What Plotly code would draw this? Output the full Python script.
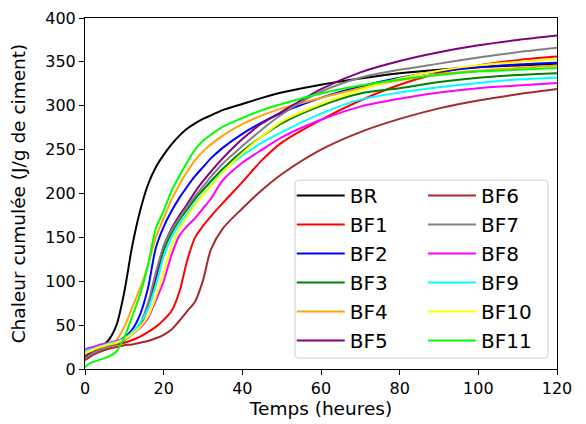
import plotly.graph_objects as go

hours = [0, 1, 2, 4, 6, 8, 10, 12, 14, 16, 18, 20, 22, 24, 26, 28, 30, 32, 35, 40, 45, 50, 60, 70, 80, 90, 100, 110, 120]

BR   = [12, 16, 19, 25, 33, 50, 88, 140, 180, 210, 230, 244, 256, 266, 274, 280, 285, 289, 295, 302, 309, 315, 324, 331, 337, 341, 344, 346, 348]
BF1  = [12, 16, 19, 23, 26, 28, 30, 33, 37, 42, 48, 56, 66, 88, 124, 150, 163, 174, 189, 213, 238, 258, 284, 306, 324, 337, 346, 352, 356]
BF2  = [14, 17, 19, 23, 27, 31, 36, 45, 62, 92, 138, 162, 180, 195, 208, 220, 230, 240, 252, 268, 281, 292, 309, 322, 332, 339, 344, 347, 349]
BF3  = [12, 15, 18, 22, 26, 29, 33, 40, 50, 70, 102, 135, 155, 170, 182, 194, 204, 214, 228, 248, 265, 280, 300, 314, 320, 327, 332, 335, 337]
BF4  = [16, 18, 20, 24, 27, 33, 48, 70, 92, 118, 150, 172, 193, 210, 225, 238, 248, 256, 266, 279, 289, 297, 309, 320, 329, 336, 340, 343, 346]
BF5  = [14, 17, 19, 23, 27, 30, 34, 40, 50, 72, 105, 140, 160, 175, 188, 202, 214, 225, 240, 262, 280, 293, 319, 338, 351, 361, 369, 375, 380]
BF6  = [10, 13, 16, 20, 23, 25, 27, 28, 30, 32, 35, 39, 45, 55, 66, 77, 101, 136, 160, 183, 204, 222, 250, 270, 285, 297, 306, 313, 319]
BF7  = [12, 15, 18, 22, 26, 29, 33, 40, 52, 75, 110, 140, 158, 172, 185, 197, 208, 219, 234, 254, 273, 290, 316, 332, 341, 348, 355, 361, 366]
BF8  = [22, 24, 25, 28, 30, 32, 35, 40, 47, 58, 78, 100, 130, 152, 163, 172, 183, 194, 215, 235, 250, 264, 284, 299, 308, 315, 320, 323, 326]
BF9  = [20, 22, 23, 26, 29, 31, 35, 42, 52, 68, 95, 128, 150, 165, 177, 189, 199, 209, 225, 243, 258, 270, 291, 307, 315, 321, 326, 330, 332]
BF10 = [18, 20, 22, 25, 28, 30, 34, 40, 48, 60, 82, 110, 140, 160, 174, 187, 198, 208, 224, 246, 265, 282, 302, 318, 331, 340, 346, 350, 353]
BF11 = [2, 6, 8, 11, 14, 20, 36, 60, 85, 118, 160, 180, 203, 220, 236, 250, 260, 267, 276, 286, 295, 302, 314, 323, 330, 335, 339, 341, 343]

names = ["BR", "BF1", "BF2", "BF3", "BF4", "BF5", "BF6", "BF7", "BF8", "BF9", "BF10", "BF11"]
series = [BR, BF1, BF2, BF3, BF4, BF5, BF6, BF7, BF8, BF9, BF10, BF11]
colors = ["#000000", "#ff0000", "#0000ff", "#008000", "#ffa500", "#800080",
          "#a52a2a", "#808080", "#ff00ff", "#00ffff", "#ffff00", "#00ff00"]
legend_ids = ["legend"] * 6 + ["legend2"] * 6

fig = go.Figure()
for name, ys, col, lg in zip(names, series, colors, legend_ids):
    fig.add_trace(go.Scatter(
        x=hours, y=ys, mode="lines", name=name,
        line=dict(color=col, width=2, shape="spline", smoothing=0.8),
        legend=lg,
    ))

axis_common = dict(
    showline=True, linecolor="black", linewidth=1, mirror=True,
    ticks="outside", ticklen=5, tickcolor="black", showgrid=False, zeroline=False,
    tickfont=dict(size=16, color="black"), automargin=False,
)
fig.update_xaxes(range=[0, 120], tickvals=[0, 20, 40, 60, 80, 100, 120],
                 title=dict(text="Temps (heures)", font=dict(size=18.5, color="black"), standoff=2),
                 **axis_common)
fig.update_yaxes(range=[0, 400], tickvals=[0, 50, 100, 150, 200, 250, 300, 350, 400],
                 title=dict(text="Chaleur cumulée (J/g de ciment)", font=dict(size=18.5, color="black"), standoff=14),
                 **axis_common)

# legend frame with rounded corners (paper coordinates)
x0, x1, y0, y1 = 0.445, 0.981, 0.031, 0.538
rx, ry = 0.009, 0.012
frame = (f"M {x0+rx},{y0} L {x1-rx},{y0} Q {x1},{y0} {x1},{y0+ry} "
         f"L {x1},{y1-ry} Q {x1},{y1} {x1-rx},{y1} "
         f"L {x0+rx},{y1} Q {x0},{y1} {x0},{y1-ry} "
         f"L {x0},{y0+ry} Q {x0},{y0} {x0+rx},{y0} Z")
fig.add_shape(type="path", xref="paper", yref="paper", path=frame,
              line=dict(color="#cccccc", width=1),
              fillcolor="rgba(255,255,255,0.8)", layer="above")

leg_common = dict(orientation="v", yanchor="top", xanchor="left", y=0.55,
                  bgcolor="rgba(0,0,0,0)", borderwidth=0, itemwidth=48,
                  font=dict(size=20, color="black", family="DejaVu Sans"))

fig.update_layout(
    width=578, height=416,
    margin=dict(l=77, r=29, t=10, b=55),
    paper_bgcolor="white", plot_bgcolor="white",
    font=dict(family="DejaVu Sans", color="black"),
    legend=dict(x=0.438, **leg_common),
    legend2=dict(x=0.716, **leg_common),
    showlegend=True,
)

fig.write_html("out.html")
